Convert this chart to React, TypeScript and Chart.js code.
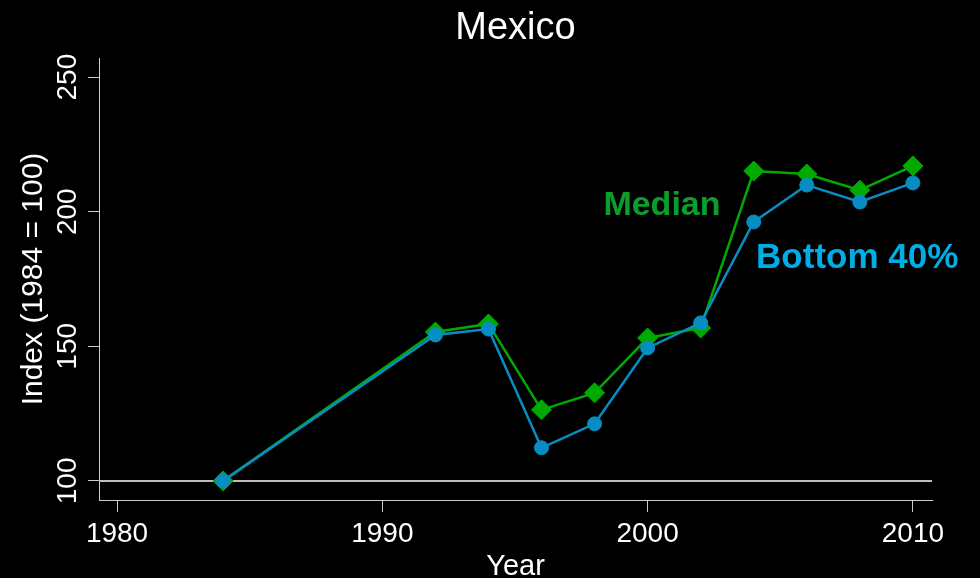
import React, { useEffect, useRef } from 'react';
import { Chart, registerables } from 'chart.js';

Chart.register(...registerables);

const YEARS = [1984, 1992, 1994, 1996, 1998, 2000, 2002, 2004, 2006, 2008, 2010];
const MEDIAN = [100, 155.3, 158.3, 126.4, 132.7, 153.1, 156.8, 215.1, 214.0, 208.0, 217.0];
const BOTTOM40 = [100, 154.2, 156.4, 112.3, 121.2, 149.4, 158.7, 196.2, 209.9, 203.6, 210.7];
const X_TICKS = [1980, 1990, 2000, 2010];
const Y_TICKS = [100, 150, 200, 250];
const X_MIN = 1979.32;
const X_MAX = 2010.72;
const Y_MIN = 92.9;
const Y_MAX = 257.1;
const BASELINE = 100;
const TITLE = 'Mexico';
const X_TITLE = 'Year';
const Y_TITLE = 'Index (1984 = 100)';
const ANNOT_TEXT = ['Median', 'Bottom 40%'];
const ANNOT_X = [2000.54, 2007.9];
const ANNOT_Y = [202.1, 182.6];

const GREEN = '#00aa00';
const BLUE = '#078dc2';
const GREEN_TEXT = '#0c9e2c';
const BLUE_TEXT = '#00aee6';
const FONT = "'Liberation Sans', Arial, sans-serif";

export default function App() {
  const ref = useRef<HTMLCanvasElement | null>(null);

  useEffect(() => {
    document.body.style.margin = '0';
    document.body.style.background = '#000';
    const canvas = ref.current;
    if (!canvas) return;

    const customPlugin = {
      id: 'custom',
      beforeDraw(chart: any) {
        const ctx = chart.ctx;
        ctx.save();
        ctx.fillStyle = '#000';
        ctx.fillRect(0, 0, chart.width, chart.height);
        ctx.restore();
      },
      beforeDatasetsDraw(chart: any) {
        const ctx = chart.ctx;
        const y = chart.scales.y;
        const a = chart.chartArea;
        const py = y.getPixelForValue(BASELINE);
        ctx.save();
        ctx.strokeStyle = '#bdbdbd';
        ctx.lineWidth = 2;
        ctx.beginPath();
        ctx.moveTo(a.left, py);
        ctx.lineTo(a.right, py);
        ctx.stroke();
        ctx.restore();
      },
      afterDraw(chart: any) {
        const ctx = chart.ctx;
        const xs = chart.scales.x;
        const ys = chart.scales.y;
        const a = chart.chartArea;
        ctx.save();
        ctx.fillStyle = '#ffffff';
        ctx.font = `28px ${FONT}`;
        ctx.textAlign = 'center';
        // y tick labels (rotated)
        Y_TICKS.forEach((v) => {
          const py = ys.getPixelForValue(v);
          ctx.save();
          ctx.translate(a.left - 23, py);
          ctx.rotate(-Math.PI / 2);
          ctx.textBaseline = 'alphabetic';
          ctx.fillText(String(v), 0, 0);
          ctx.restore();
        });
        // y title
        ctx.font = `30px ${FONT}`;
        ctx.save();
        ctx.translate(a.left - 57, (a.top + a.bottom) / 2);
        ctx.rotate(-Math.PI / 2);
        ctx.textBaseline = 'alphabetic';
        ctx.fillText(Y_TITLE, 0, 0);
        ctx.restore();
        // x title
        ctx.font = `29px ${FONT}`;
        ctx.textBaseline = 'alphabetic';
        ctx.fillText(X_TITLE, (a.left + a.right) / 2, a.bottom + 75);
        // annotations
        ctx.font = `bold 34px ${FONT}`;
        ctx.textBaseline = 'middle';
        const colors = [GREEN_TEXT, BLUE_TEXT];
        ANNOT_TEXT.forEach((t, i) => {
          ctx.fillStyle = colors[i];
          ctx.font = i === 0 ? `bold 34px ${FONT}` : `bold 35px ${FONT}`;
          ctx.fillText(t, xs.getPixelForValue(ANNOT_X[i]), ys.getPixelForValue(ANNOT_Y[i]));
        });
        ctx.restore();
      },
    };

    const chart = new Chart(canvas, {
      type: 'line',
      data: {
        datasets: [
          {
            label: 'Bottom 40%',
            data: YEARS.map((yr, i) => ({ x: yr, y: BOTTOM40[i] })),
            borderColor: BLUE,
            backgroundColor: BLUE,
            borderWidth: 2.5,
            pointStyle: 'circle',
            pointRadius: 7,
            pointBorderWidth: 1,
            pointBackgroundColor: BLUE,
            pointBorderColor: BLUE,
            tension: 0,
            order: 0,
          },
          {
            label: 'Median',
            data: YEARS.map((yr, i) => ({ x: yr, y: MEDIAN[i] })),
            borderColor: GREEN,
            backgroundColor: GREEN,
            borderWidth: 2.5,
            pointStyle: 'rectRot',
            pointRadius: 10,
            pointBorderWidth: 1,
            pointBackgroundColor: GREEN,
            pointBorderColor: GREEN,
            tension: 0,
            order: 1,
          },
        ],
      },
      options: {
        responsive: false,
        animation: false,
        devicePixelRatio: 1,
        layout: { padding: { left: 0, right: 48, top: 0, bottom: 0 } },
        plugins: {
          legend: { display: false },
          tooltip: { enabled: false },
          title: {
            display: true,
            fullSize: false,
            text: TITLE,
            color: '#ffffff',
            font: { family: FONT, size: 38, weight: 'normal' },
            padding: { top: 6, bottom: 6.4 },
          },
        },
        scales: {
          x: {
            type: 'linear',
            min: X_MIN,
            max: X_MAX,
            afterBuildTicks: (s: any) => {
              s.ticks = X_TICKS.map((v) => ({ value: v }));
            },
            afterFit: (s: any) => {
              s.height = 78;
            },
            ticks: {
              color: '#ffffff',
              font: { family: FONT, size: 28 },
              padding: 5,
              maxRotation: 0,
              minRotation: 0,
              autoSkip: false,
              callback: (v: any) => String(v),
            },
            grid: {
              drawOnChartArea: false,
              drawTicks: true,
              tickLength: 12,
              color: '#cccccc',
              lineWidth: 1,
            },
            border: { display: true, color: '#cccccc', width: 1 },
          },
          y: {
            type: 'linear',
            min: Y_MIN,
            max: Y_MAX,
            afterBuildTicks: (s: any) => {
              s.ticks = Y_TICKS.map((v) => ({ value: v }));
            },
            afterFit: (s: any) => {
              s.width = 99;
            },
            ticks: { display: false },
            grid: {
              drawOnChartArea: false,
              drawTicks: true,
              tickLength: 11,
              color: '#cccccc',
              lineWidth: 1,
            },
            border: { display: true, color: '#cccccc', width: 1 },
          },
        },
      },
      plugins: [customPlugin],
    } as any);

    return () => chart.destroy();
  }, []);

  return (
    <div style={{ position: 'absolute', left: 0, top: 0, width: 980, height: 578, background: '#000' }}>
      <canvas ref={ref} width={980} height={578} style={{ display: 'block' }} />
    </div>
  );
}
